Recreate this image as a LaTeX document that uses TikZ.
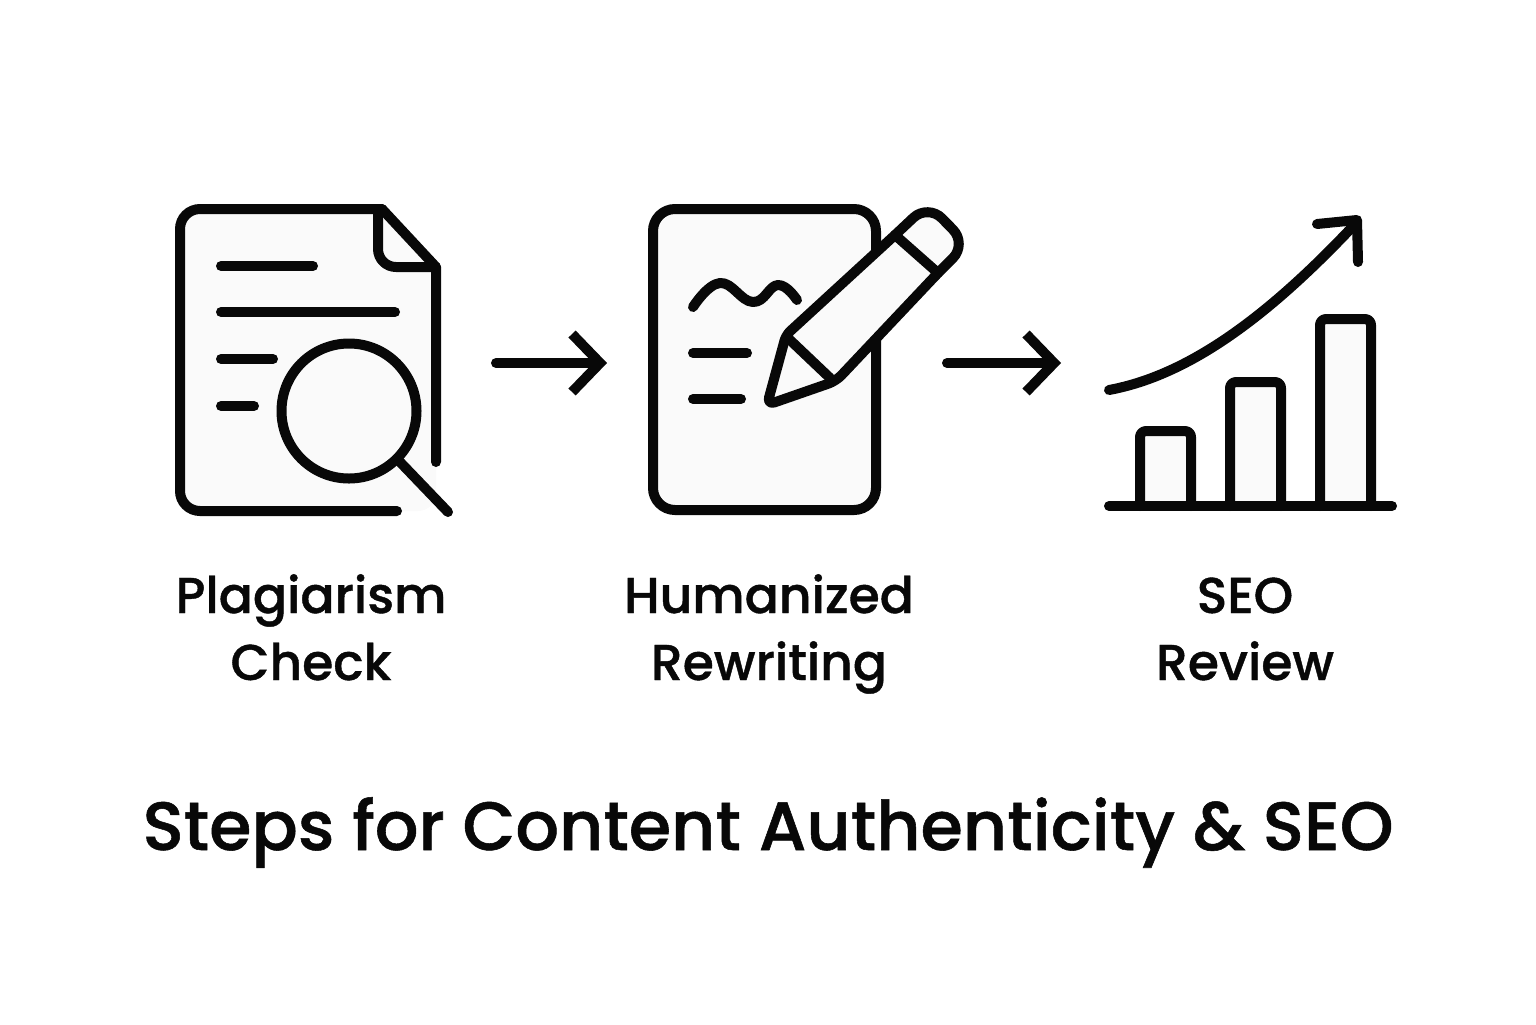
\documentclass[tikz,border=0pt]{standalone}
\usepackage{fontspec}
\setmainfont{Poppins Medium}[FakeBold=0.8]
\usepackage{xcolor}
\usetikzlibrary{arrows.meta}
\definecolor{inkcolor}{RGB}{8, 8, 8}
\definecolor{papercolor}{RGB}{250, 250, 250}
\tikzstyle{icon} = [draw=inkcolor, line width=5pt, line cap=round, line join=round]
\tikzstyle{paper} = [fill=papercolor]
\tikzstyle{flow} = [-{Straight Barb[length=14pt, width=29pt, line width=5pt]}, icon]
\tikzstyle{steplabel} = [inkcolor, font=\fontsize{25.2}{33.5}\selectfont, align=center, anchor=base]
\tikzstyle{headline} = [inkcolor, font=\fontsize{34.2}{40}\selectfont, anchor=base]

\begin{document}
\begin{tikzpicture}[x=0.5pt, y=-0.5pt]
	\useasboundingbox (0,0) rectangle (1536,1024);

	%
	% Plagiarism check
	\fill [paper, rounded corners=9pt] (180,209) -- (382,209) -- (436,267) -- (436,511) -- (180,511) -- cycle;
	\draw [icon, rounded corners=10pt] (397,511) -- (180,511) -- (180,209) -- (382,209);
	\draw [icon] (382,209) -- (436,267) -- (436,462);
	\draw [icon, rounded corners=9pt] (378,211) -- (378,267) -- (436,267);
	\draw [icon] (221,266) -- (313,266);
	\draw [icon] (221,312) -- (395,312);
	\draw [icon] (221,359) -- (273,359);
	\draw [icon] (221,406) -- (254,406);
	\node [icon, paper, circle, minimum size=135pt*0.5, inner sep=0pt] (lens) at (349,411) {};
	\draw [icon] (lens.-45) -- (448,512);

	%
	% Humanized rewriting
	\draw [icon, paper, rounded corners=11pt] (653,209) rectangle (876,510);
	\draw [icon] plot [smooth, tension=0.75] coordinates {(693,307) (720,283) (753,302) (778,285) (797,300)};
	\draw [icon] (693,353) -- (747,353);
	\draw [icon] (693,399) -- (741,399);

	% Pencil
	\coordinate (barrel_low) at (790,340);
	\coordinate (barrel_high) at (830,378);
	\coordinate (ferrule_low) at (895,235);
	\coordinate (ferrule_high) at (938,273);
	\draw [icon, paper, rounded corners=4pt] (786,335) -- (767,405) -- (836,381) -- (ferrule_high) [rounded corners=10pt] -- (967,244) -- (928,204) [rounded corners=3pt] -- (ferrule_low) -- cycle;
	\draw [icon] (barrel_low) -- (barrel_high);
	\draw [icon] (ferrule_low) -- (ferrule_high);

	%
	% SEO review
	\draw [icon, paper, rounded corners=3pt] (1140,506) -- (1140,431) -- (1191,431) -- (1191,506);
	\draw [icon, paper, rounded corners=3pt] (1230,506) -- (1230,382) -- (1281,382) -- (1281,506);
	\draw [icon, paper, rounded corners=3pt] (1320,506) -- (1320,319) -- (1371,319) -- (1371,506);
	\draw [icon] (1109,506) -- (1392,506);
	\draw [icon] (1109,390) .. controls (1190,375) and (1270,315) .. (1357,222);
	\draw [icon] (1317,224) -- (1357,220) -- (1358,262);

	%
	% Arrows between the steps
	\coordinate (flow1_start) at (496,363);
	\coordinate (flow1_end) at (607,363);
	\coordinate (flow2_start) at (947,363);
	\coordinate (flow2_end) at (1061,363);
	\draw [flow] (flow1_start) -- (flow1_end);
	\draw [flow] (flow2_start) -- (flow2_end);

	%
	% Labels
	\node [steplabel] at (311,680) (label_check) {Plagiarism\\Check};
	\node [steplabel] at (769,680) (label_rewriting) {Humanized\\Rewriting};
	\node [steplabel] at (1245,680) (label_review) {SEO\\Review};
	\node [headline] at (768,850) (title) {Steps for Content Authenticity \& SEO};

\end{tikzpicture}
\end{document}
